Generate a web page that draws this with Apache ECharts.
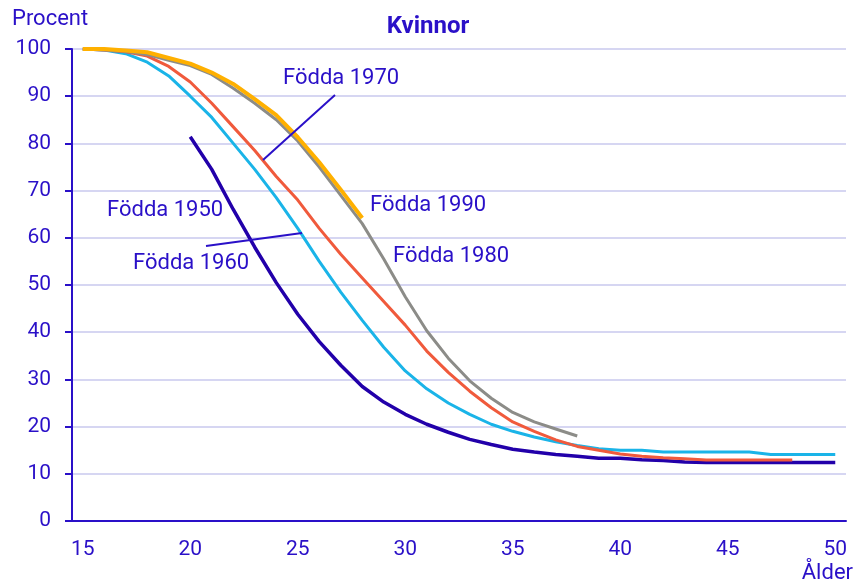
<!DOCTYPE html>
<html lang="sv">
<head>
    <meta charset="utf-8">
    <title>Kvinnor</title>
    <script src="https://cdn.jsdelivr.net/npm/echarts@6/dist/echarts.min.js"></script>
    <style>
        html, body { margin: 0; padding: 0; background: #fff; }
    </style>
</head>
<body>
<div id="pic1" style="width:856px;height:586px;"></div>

<script>
    // ålder 15-50
    var ages = [];
    for (var a = 15; a <= 50; a++) { ages.push(String(a)); }

    // andel (procent) per födelsekohort, läst från bilden
    var fodda1950 = [null, null, null, null, null,
        81.4, 74.5, 66, 58, 50.5, 43.8, 38, 33, 28.5, 25.2, 22.6,
        20.5, 18.8, 17.3, 16.2, 15.2, 14.6, 14.1, 13.7, 13.3, 13.3,
        13, 12.8, 12.5, 12.4, 12.4, 12.4, 12.4, 12.4, 12.4, 12.4];
    var fodda1960 = [100, 99.8, 99, 97.2, 94.3, 90, 85.5, 80, 74.5, 68.5,
        62, 55, 48.5, 42.5, 36.8, 31.8, 28, 25, 22.6, 20.5,
        19, 17.8, 16.8, 16, 15.3, 15, 15, 14.6, 14.6, 14.6,
        14.6, 14.6, 14.1, 14.1, 14.1, 14.1];
    var fodda1970 = [100, 99.8, 99.4, 98.5, 96.3, 93, 88.5, 83.5, 78.5, 73,
        68, 62, 56.5, 51.5, 46.5, 41.5, 36, 31.5, 27.5, 24,
        21, 19, 17.2, 15.8, 15, 14.2, 13.7, 13.4, 13.2, 12.9,
        12.9, 12.9, 12.9, 12.9];
    var fodda1980 = [100, 99.8, 99.5, 98.8, 97.6, 96.5, 94.6, 91.7, 88.5, 85,
        80.5, 75, 69, 63, 55.5, 47.5, 40.3, 34.5, 29.7, 26,
        23, 21, 19.5, 18];
    var fodda1990 = [100, 100, 99.7, 99.3, 98.1, 96.9, 95, 92.6, 89.4, 86,
        81.3, 76, 70.2, 64.2];

    var blue = '#2a10c8';

    var mCharts = echarts.init(document.getElementById('pic1'));

    function serie(name, data, color, width) {
        return {
            name: name,
            type: 'line',
            data: data,
            symbol: 'none',
            connectNulls: false,
            lineStyle: { color: color, width: width },
            itemStyle: { color: color },
            z: 3
        };
    }

    function label(text, x, y, align, size, bold) {
        return {
            type: 'text',
            left: align === 'right' ? null : x,
            right: align === 'right' ? 856 - x : null,
            top: y - size / 2 - 2,
            style: {
                text: text,
                fill: blue,
                font: (bold ? 'bold ' : '') + size + 'px Roboto',
                align: align || 'left'
            }
        };
    }

    var option = {
        animation: false,
        grid: { left: 72, right: 10, top: 49, bottom: 65 },
        xAxis: {
            type: 'category',
            data: ages,
            boundaryGap: true,
            axisLine: { lineStyle: { color: blue, width: 2 } },
            axisTick: { interval: 0, length: 7, lineStyle: { color: blue, width: 2 } },
            axisLabel: { interval: 4, color: blue, fontSize: 21, fontFamily: 'Roboto', margin: 18 },
            splitLine: { show: false }
        },
        yAxis: {
            type: 'value',
            min: 0,
            max: 100,
            interval: 10,
            axisLine: { show: true, lineStyle: { color: blue, width: 2 } },
            axisTick: { show: true, length: 7, lineStyle: { color: blue, width: 2 } },
            axisLabel: { color: blue, fontSize: 21, fontFamily: 'Roboto', margin: 21 },
            splitLine: { lineStyle: { color: '#d6d6f2', width: 2 } }
        },
        series: [
            serie('Födda 1950', fodda1950, '#2200aa', 3.5),
            serie('Födda 1960', fodda1960, '#1ab4e8', 3),
            serie('Födda 1970', fodda1970, '#f05a3c', 3),
            serie('Födda 1980', fodda1980, '#8c8c88', 3),
            serie('Födda 1990', fodda1990, '#ffb000', 4)
        ],
        graphic: [
            {
                type: 'text',
                left: 'center',
                top: 15,
                style: { text: 'Kvinnor', fill: blue, font: 'bold 24px Roboto' }
            },
            label('Procent', 12, 21, 'left', 22),
            label('Ålder', 853, 575, 'right', 22),
            label('Födda 1970', 283, 80, 'left', 22),
            label('Födda 1950', 107, 212, 'left', 22),
            label('Födda 1960', 133, 265, 'left', 22),
            label('Födda 1990', 370, 207, 'left', 22),
            label('Födda 1980', 393, 258, 'left', 22),
            // hänvisningslinjer
            { type: 'line', shape: { x1: 335, y1: 95, x2: 263, y2: 160 }, style: { stroke: blue, lineWidth: 2 }, z: 10 },
            { type: 'line', shape: { x1: 206, y1: 246, x2: 302, y2: 233 }, style: { stroke: blue, lineWidth: 2 }, z: 10 }
        ]
    };

    mCharts.setOption(option);
</script>

</body>
</html>
